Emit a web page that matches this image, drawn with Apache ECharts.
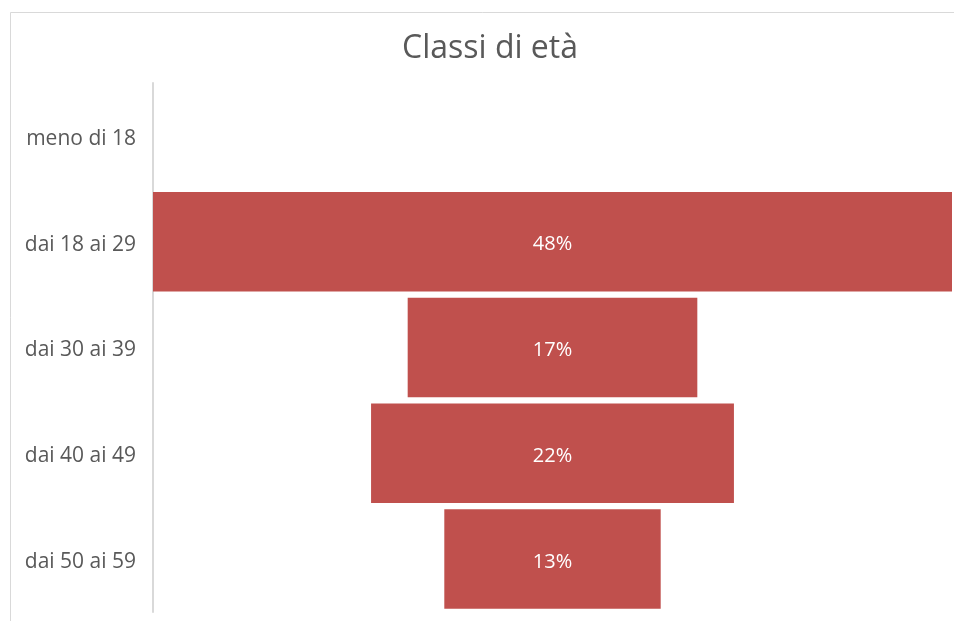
<!DOCTYPE html>
<html>
<head>
<meta charset="utf-8">
<script src="https://cdn.jsdelivr.net/npm/echarts@6/dist/echarts.min.js"></script>
<style>html,body{margin:0;padding:0;background:#fff;}#c{width:954px;height:621px;}</style>
</head>
<body>
<div id="c"></div>
<script>
const categories = ["meno di 18", "dai 18 ai 29", "dai 30 ai 39", "dai 40 ai 49", "dai 50 ai 59"];
const values = [0, 48, 17.4, 21.8, 13.0];
const titleText = "Classi di età";

const maxVal = Math.max.apply(null, values);
const offsets = values.map(v => (maxVal - v) / 2);
const font = "'Open Sans', 'Noto Sans', sans-serif";

const chart = echarts.init(document.getElementById('c'), null, {renderer: 'canvas'});
chart.setOption({
  animation: false,
  backgroundColor: '#fff',
  title: {
    text: titleText,
    left: 485, top: 28, textAlign: 'center',
    textStyle: {fontFamily: font, fontSize: 32, fontWeight: 'normal', color: '#595959'}
  },
  graphic: [{
    type: 'rect', left: 8, top: 10, z: -1,
    shape: {width: 1000, height: 700},
    style: {fill: 'none', stroke: '#d9d9d9', lineWidth: 1}
  }],
  grid: {left: 153, right: 2, top: 83, bottom: 9},
  xAxis: {
    type: 'value', min: 0, max: maxVal, show: false
  },
  yAxis: {
    type: 'category', data: categories, inverse: true,
    axisLine: {show: true, lineStyle: {color: '#d9d9d9', width: 2}},
    axisTick: {show: false},
    axisLabel: {
      fontFamily: font, fontSize: 21, color: '#595959', margin: 17,
      formatter: v => '{a|' + v + '}',
      rich: {a: {fontFamily: font, fontSize: 21, color: '#595959', padding: [6, 0, 0, 0]}}
    }
  },
  series: [
    {
      type: 'bar', stack: 'f', data: offsets, silent: true,
      itemStyle: {color: 'transparent'}, barCategoryGap: '6%'
    },
    {
      type: 'bar', stack: 'f', data: values, barCategoryGap: '6%',
      itemStyle: {color: '#C0504D'},
      label: {
        show: true, position: 'inside', color: '#ffffff',
        fontFamily: font, fontSize: 20, offset: [0, 3],
        formatter: p => p.value > 0 ? Math.round(p.value) + '%' : ''
      }
    }
  ]
});
</script>
</body>
</html>
